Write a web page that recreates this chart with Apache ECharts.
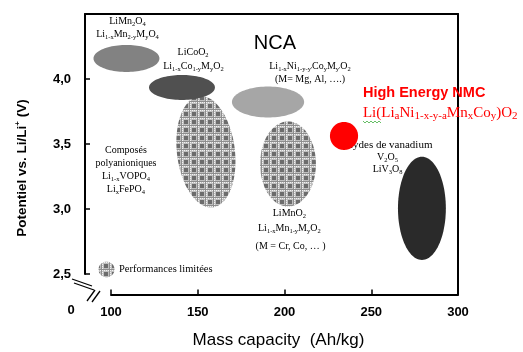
<!DOCTYPE html>
<html>
<head>
<meta charset="utf-8">
<title>Potentiel vs. capacité massique</title>
<script src="https://cdn.jsdelivr.net/npm/echarts/dist/echarts.min.js"></script>
<style>
  html, body { margin: 0; padding: 0; background: #fff; }
  #chart { width: 523px; height: 352px; }
</style>
</head>
<body>
<div id="chart"></div>
<script>
const SERIF = '"Liberation Serif", "Times New Roman", serif';
const SANS = '"Liberation Sans", Arial, sans-serif';

// Axis ticks
const capacityTicks = [100, 150, 200, 250, 300];
const potentialTicks = [2.5, 3.0, 3.5, 4.0];

// Electrode material domains: centre and half-spread (Ah/kg, V)
const domainNames = ['Li1-xCo1-yMyO2 (performances limitées)', 'LiMnO2', 'LiMn2O4', 'LiCoO2', 'NCA', 'High Energy NMC', 'Oxydes de vanadium'];
const capacityCentre = [154.7, 202.0, 108.9, 140.9, 190.5, 234.3, 279.2];
const potentialCentre = [3.44, 3.346, 4.158, 3.935, 3.823, 3.562, 3.005];
const capacitySpread = [16.7, 16.1, 19.0, 19.0, 20.8, 8.1, 13.8];
const potentialSpread = [0.431, 0.327, 0.104, 0.096, 0.119, 0.108, 0.397];
const domainTilt = [-7, 0, 0, 0, 0, 0, 0];

// Legend swatch for "Performances limitées"
const swatchCapacity = [97.4];
const swatchPotential = [2.535];
const swatchCapacitySpread = [4.6];
const swatchPotentialSpread = [0.06];

// Annotations
const noteText = [
  'LiMn{s|2}O{s|4}',
  'Li{s|1-x}Mn{s|2-y}M{s|y}O{s|4}',
  'LiCoO{s|2}',
  'Li{s|1-x}Co{s|1-y}M{s|y}O{s|2}',
  'NCA',
  "Li{s|1-x}Ni{s|1-y-y'}Co{s|y}M{s|y'}O{s|2}",
  '(M= Mg, Al, \u2026.)',
  'High Energy NMC',
  'Li(Li{s|a}Ni{s|1-x-y-a}Mn{s|x}Co{s|y})O{s|2}',
  'Oxydes de vanadium',
  'V{s|2}O{s|5}',
  'LiV{s|3}O{s|8}',
  'Composés',
  'polyanioniques',
  'Li{s|1-x}VOPO{s|4}',
  'Li{s|x}FePO{s|4}',
  'LiMnO{s|2}',
  'Li{s|1-x}Mn{s|1-y}M{s|y}O{s|2}',
  '(M = Cr, Co, \u2026 )',
  'Performances limitées'
];
const noteCapacity = [109.5, 109.5, 147.3, 147.5, 194.5, 214.7, 214.7, 245.2, 245.2, 258.5, 259.4, 259.4,
                      108.6, 108.6, 108.6, 108.6, 202.8, 202.8, 203.5, 104.6];
const notePotential = [4.446, 4.346, 4.208, 4.1, 4.27, 4.1, 4.0, 3.89, 3.738, 3.492, 3.4, 3.308,
                       3.454, 3.354, 3.254, 3.154, 2.969, 2.854, 2.715, 2.538];
const noteKind = ['f', 'f', 'f', 'f', 'nca', 'f', 'f', 'nmc', 'nmcf', 'v', 'f', 'f',
                  'f', 'f', 'f', 'f', 'f', 'f', 'f', 'fl'];

// ---- styles ----
const noteStyle = {
  f:    { font: '10px ' + SERIF, sub: '6.5px ' + SERIF, fill: '#000', align: 'center', lh: 13, slh: 7 },
  v:    { font: '11px ' + SERIF, sub: '7px ' + SERIF, fill: '#000', align: 'center', lh: 13, slh: 7 },
  fl:   { font: '10.5px ' + SERIF, sub: '7px ' + SERIF, fill: '#000', align: 'left', lh: 13, slh: 7 },
  nca:  { font: '20px ' + SANS, sub: '14px ' + SANS, fill: '#000', align: 'center', lh: 22, slh: 14 },
  nmc:  { font: 'bold 14.5px ' + SANS, sub: '10px ' + SANS, fill: '#ff0000', align: 'left', lh: 18, slh: 10 },
  nmcf: { font: '15px ' + SERIF, sub: '11px ' + SERIF, fill: '#ff0000', align: 'left', lh: 18, slh: 10 }
};

function makeHatch() {
  const cv = document.createElement('canvas');
  cv.width = 8; cv.height = 8;
  const g = cv.getContext('2d');
  g.fillStyle = '#bfbfbf'; g.fillRect(0, 0, 8, 8);
  g.fillStyle = '#6c6c6c'; g.fillRect(0, 0, 4, 4);
  g.fillStyle = '#8e8e8e'; g.fillRect(5, 0, 1, 8); g.fillRect(0, 5, 8, 1);
  g.fillStyle = '#f2f2f2';
  for (let i = 0; i < 8; i += 2) { g.fillRect(i, 6, 1, 1); g.fillRect(6, i, 1, 1); }
  return cv;
}
const hatch = { image: makeHatch(), repeat: 'repeat' };
const domainFill = [hatch, hatch, '#828282', '#505050', '#a6a6a6', '#ff0000', '#2a2a2a'];

function ellipseShape(api, cx, cy, rx, ry, tiltDeg) {
  const c = api.coord([cx, cy]);
  const a = api.size([rx * 2, 0], [cx, cy])[0] / 2;
  const b = api.size([0, ry * 2], [cx, cy])[1] / 2;
  const th = tiltDeg * Math.PI / 180;
  const pts = [];
  for (let i = 0; i < 96; i++) {
    const t = i / 96 * Math.PI * 2;
    const x = a * Math.cos(t), y = b * Math.sin(t);
    pts.push([c[0] + x * Math.cos(th) - y * Math.sin(th), c[1] + x * Math.sin(th) + y * Math.cos(th)]);
  }
  return pts;
}

const chart = echarts.init(document.getElementById('chart'), null, { renderer: 'canvas' });

const lineStyle = { color: '#000', width: 2 };
const hiddenAxis = { axisTick: { show: false }, axisLabel: { show: false }, splitLine: { show: false } };

chart.setOption({
  animation: false,
  backgroundColor: '#fff',
  grid: [
    { left: 85, right: 65, top: 14, bottom: 78 },
    { left: 111, right: 65, top: 274, bottom: 57.5 }
  ],
  xAxis: [
    Object.assign({ gridIndex: 0, type: 'value', min: 85, max: capacityTicks[capacityTicks.length - 1], position: 'top',
      axisLine: { show: true, onZero: false, lineStyle } }, hiddenAxis),
    {
      gridIndex: 1, type: 'value', position: 'bottom',
      min: capacityTicks[0], max: capacityTicks[capacityTicks.length - 1],
      interval: capacityTicks[1] - capacityTicks[0],
      axisLine: { show: true, onZero: false, lineStyle },
      axisTick: { show: true, inside: true, length: 5, lineStyle: { color: '#000', width: 1.5 } },
      axisLabel: { margin: 11, color: '#000', fontFamily: SANS, fontWeight: 'bold', fontSize: 13 },
      splitLine: { show: false },
      name: 'Mass capacity  (Ah/kg)', nameLocation: 'middle', nameGap: 37,
      nameTextStyle: { color: '#000', fontFamily: SANS, fontSize: 17, padding: [0, 12, 0, 0] }
    }
  ],
  yAxis: [
    {
      gridIndex: 0, type: 'value', position: 'left',
      min: potentialTicks[0], max: 4.5, interval: potentialTicks[1] - potentialTicks[0],
      axisLine: { show: true, onZero: false, lineStyle },
      axisTick: { show: true, inside: true, length: 5, lineStyle: { color: '#000', width: 1.5 } },
      axisLabel: {
        margin: 14, color: '#000', fontFamily: SANS, fontWeight: 'bold', fontSize: 13,
        formatter: v => (potentialTicks.some(t => Math.abs(t - v) < 1e-6) ? v.toFixed(1).replace('.', ',') : '')
      },
      splitLine: { show: false },
      name: 'Potentiel vs. Li/Li{sup|+} (V)', nameLocation: 'middle', nameRotate: 90, nameGap: 55,
      nameTextStyle: {
        color: '#000', fontFamily: SANS, fontWeight: 'bold', fontSize: 13.5, lineHeight: 16,
        padding: [0, 48, 0, 0],
        rich: { sup: { color: '#000', fontFamily: SANS, fontWeight: 'bold', fontSize: 8, lineHeight: 9, verticalAlign: 'top' } }
      }
    },
    Object.assign({ gridIndex: 0, type: 'value', position: 'right', min: potentialTicks[0], max: 4.5,
      axisLine: { show: true, onZero: false, lineStyle } }, hiddenAxis),
    Object.assign({ gridIndex: 1, type: 'value', position: 'right', min: 0, max: 1,
      axisLine: { show: true, onZero: false, lineStyle } }, hiddenAxis)
  ],
  graphic: [
    { type: 'text', x: 71, y: 310, style: { text: '0', font: 'bold 13px ' + SANS, fill: '#000', align: 'center', verticalAlign: 'middle' } },
    { type: 'line', shape: { x1: 72, y1: 279, x2: 92, y2: 286 }, style: { stroke: '#000', lineWidth: 1.3 } },
    { type: 'line', shape: { x1: 74, y1: 283, x2: 94, y2: 290 }, style: { stroke: '#000', lineWidth: 1.3 } },
    { type: 'line', shape: { x1: 87, y1: 301, x2: 95, y2: 290 }, style: { stroke: '#000', lineWidth: 1.3 } },
    { type: 'line', shape: { x1: 92, y1: 302, x2: 100, y2: 291 }, style: { stroke: '#000', lineWidth: 1.3 } },
    { type: 'polyline', shape: { points: [[363, 121], [365, 123], [367, 121], [369, 123], [371, 121], [373, 123], [375, 121], [377, 123], [379, 121], [381, 123]] },
      style: { stroke: '#3fae3f', lineWidth: 0.8, fill: null } }
  ],
  series: [
    {
      name: 'annotations', type: 'custom', xAxisIndex: 0, yAxisIndex: 0, z: 2, silent: true,
      data: noteCapacity.map((x, i) => [x, notePotential[i]]),
      renderItem: (params, api) => {
        const i = params.dataIndex;
        const st = noteStyle[noteKind[i]];
        const p = api.coord([api.value(0), api.value(1)]);
        return {
          type: 'text', x: p[0], y: p[1],
          style: {
            text: noteText[i], font: st.font, fill: st.fill, align: st.align, verticalAlign: 'middle',
            lineHeight: st.lh,
            rich: { s: { font: st.sub, fill: st.fill, lineHeight: st.slh, verticalAlign: 'bottom' } }
          }
        };
      }
    },
    {
      name: 'domaines', type: 'custom', xAxisIndex: 0, yAxisIndex: 0, z: 3, silent: true,
      data: capacityCentre.map((x, i) => [x, potentialCentre[i], capacitySpread[i], potentialSpread[i], domainTilt[i]]),
      renderItem: (params, api) => ({
        type: 'polygon',
        shape: { points: ellipseShape(api, api.value(0), api.value(1), api.value(2), api.value(3), api.value(4)) },
        style: { fill: domainFill[params.dataIndex] }
      })
    },
    {
      name: 'légende', type: 'custom', xAxisIndex: 0, yAxisIndex: 0, z: 3, silent: true,
      data: swatchCapacity.map((x, i) => [x, swatchPotential[i], swatchCapacitySpread[i], swatchPotentialSpread[i]]),
      renderItem: (params, api) => ({
        type: 'polygon',
        shape: { points: ellipseShape(api, api.value(0), api.value(1), api.value(2), api.value(3), 0) },
        style: { fill: hatch }
      })
    }
  ]
});
</script>
</body>
</html>
